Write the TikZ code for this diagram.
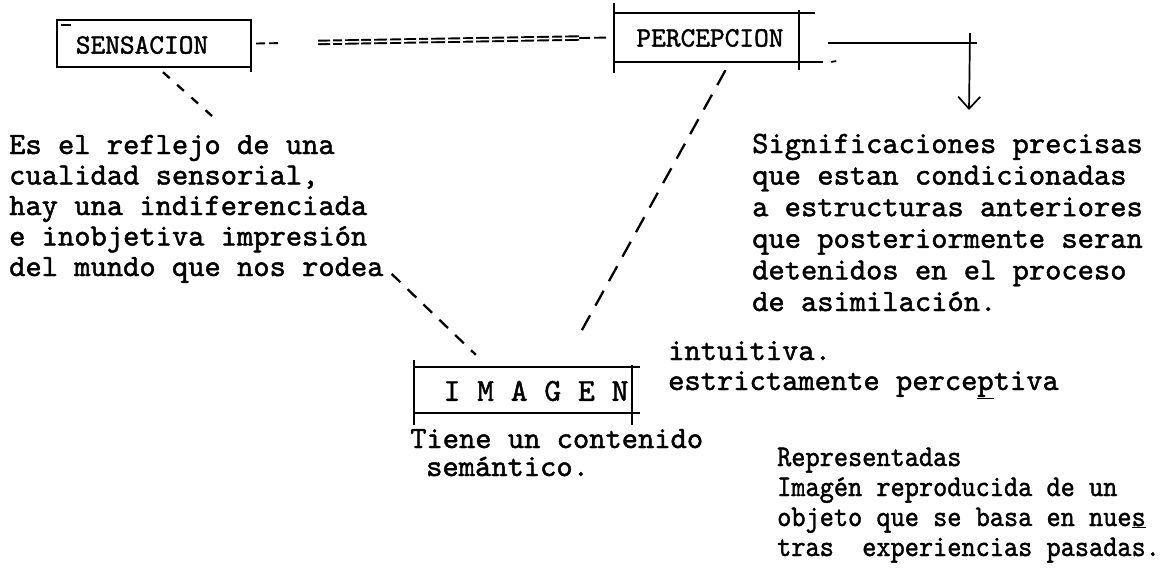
\documentclass[tikz,border=0pt]{standalone}
\usepackage{fontspec}
\usepackage{graphicx}
\newfontfamily\twf{lmmono10-regular.otf}[FakeBold=1.4]
\usetikzlibrary{arrows.meta}
\begin{document}
\begin{tikzpicture}[x=1pt,y=-1pt,
  body/.style={font=\twf\fontsize{31}{31}\selectfont, inner sep=0pt, anchor=base west},
  smalltxt/.style={font=\twf\fontsize{30}{30}\selectfont, inner sep=0pt, anchor=base west},
  lbl/.style={font=\twf\fontsize{28}{28}\selectfont, inner sep=0pt},
  boxn/.style={inner sep=0pt, draw=none},
  ln/.style={line width=1.7pt},
  dsh/.style={line width=2.3pt, dash pattern=on 12pt off 10pt},
  dshlong/.style={line width=2.3pt, dash pattern=on 17pt off 11pt}]
\useasboundingbox (0,0) rectangle (1171,574);

% ---- boxes
\node[boxn, minimum width=194pt, minimum height=47pt] (sens) at (154,43.5) {};
\node[lbl] (sensT) at (142,45) {SENSACION};
\draw[ln] (sens.north west) rectangle (sens.south east);
\draw[ln] (sens.south east) -- ([yshift=-5pt]sens.south east);
\draw[ln] ([xshift=4pt,yshift=-5pt]sens.north west) -- ([xshift=14pt,yshift=-5pt]sens.north west);

\node[boxn, minimum width=185pt, minimum height=49pt] (perc) at (706.5,37.5) {};
\node[lbl] (percT) at (710,38) {PERCEPCION};
\draw[ln] ([yshift=10pt]perc.north west) -- ([yshift=-11pt]perc.south west);
\draw[ln] (perc.north west) -- ([xshift=16pt]perc.north east);
\draw[ln] (perc.south west) -- ([xshift=24pt]perc.south east);
\draw[ln] ([yshift=3pt]perc.north east) -- ([yshift=-8pt]perc.south east);

\node[boxn, minimum width=218pt, minimum height=46pt] (img) at (523,390) {};
\node[font=\twf\fontsize{32}{32}\selectfont, inner sep=0pt] (imgT) at (536,391) {I M A G E N};
\draw[ln] ([yshift=7pt]img.north west) -- ([yshift=-12pt]img.south west);
\draw[ln] (img.north west) -- ([xshift=8pt]img.north east);
\draw[ln] (img.south west) -- ([xshift=8pt]img.south east);
\draw[ln] ([yshift=2pt]img.north east) -- ([yshift=-12pt]img.south east);

% ---- texts
\foreach \t [count=\i] in {{Es el reflejo de una},{cualidad sensorial,},{hay una indiferenciada},{e inobjetiva impresión},{del mundo que nos rodea}}
  \node[body] (s\i) at (9,{154+30.5*(\i-1)}) {\t};

\foreach \t [count=\i] in {{Significaciones precisas},{que estan condicionadas},{a estructuras anteriores},{que posteriormente seran},{detenidos en el proceso},{de asimilación.}}
  \node[body] (p\i) at (752,{153+31.6*(\i-1)}) {\t};

\node[body] (int1) at (668,360) {intuitiva.};
\node[body] (int2) at (668,390) {estrictamente perce\underline{p}tiva};

\node[body] (t1) at (410,448) {Tiene un contenido};
\node[body] (t2) at (426,476) {semántico.};

\node[smalltxt] (r1) at (777,466) {\scalebox{0.9}[1]{Representadas}};
\node[smalltxt] (r2) at (777,496) {\scalebox{0.9}[1]{Imagén reproducida de un}};
\node[smalltxt] (r3) at (777,526) {\scalebox{0.9}[1]{objeto que se basa en nue\underline{s}}};
\node[smalltxt] (r4) at (777,556) {\scalebox{0.9}[1]{tras\ \ experiencias pasadas.}};

% ---- connectors
\draw[ln, line width=1.9pt, dash pattern=on 9pt off 4pt on 9pt off 300pt on 12pt off 4pt on 12pt]
  ([xshift=5pt]sens.east) -- ([xshift=-4pt]perc.west);
\draw[line width=1.9pt, double, double distance=1.6pt, dash pattern=on 0pt off 62pt on 12pt off 3pt on 9pt off 3pt on 14pt off 2pt on 10pt off 3pt on 13pt off 3pt on 11pt off 3pt on 12pt off 3pt on 9pt off 3pt on 14pt off 3pt on 12pt off 3pt on 10pt off 3pt on 13pt off 3pt on 12pt off 3pt on 11pt off 3pt on 13pt off 3pt on 12pt off 3pt on 10pt off 3pt on 14pt off 200pt]
  ([xshift=5pt]sens.east) -- ([xshift=-4pt]perc.west);

\coordinate (c1) at (212,116);
\draw[dsh, dash pattern=on 9pt off 10pt] ([xshift=9pt,yshift=-5pt]sens.south) -- (c1);

\draw[dsh] ([xshift=8pt,yshift=-4pt]s5.east) -- ([xshift=62pt,yshift=12pt]img.north west);
\draw[dshlong] ([xshift=19pt,yshift=-8pt]perc.south) -- ([xshift=-54pt,yshift=30pt]img.north east);

\coordinate (corner) at (970,43);
\coordinate (tip) at (969,110);
\draw[ln, line width=2.3pt] ([xshift=29pt,yshift=-5.5pt]perc.east) -- ([xshift=7pt]corner);
\draw[ln, -{Straight Barb[length=12pt,width=22pt,line width=1.7pt]}] ([yshift=10pt]corner) -- (tip);
\draw[ln] ([xshift=32pt,yshift=-24.5pt]perc.east) -- ([xshift=37pt,yshift=-23.5pt]perc.east);
\end{tikzpicture}
\end{document}
